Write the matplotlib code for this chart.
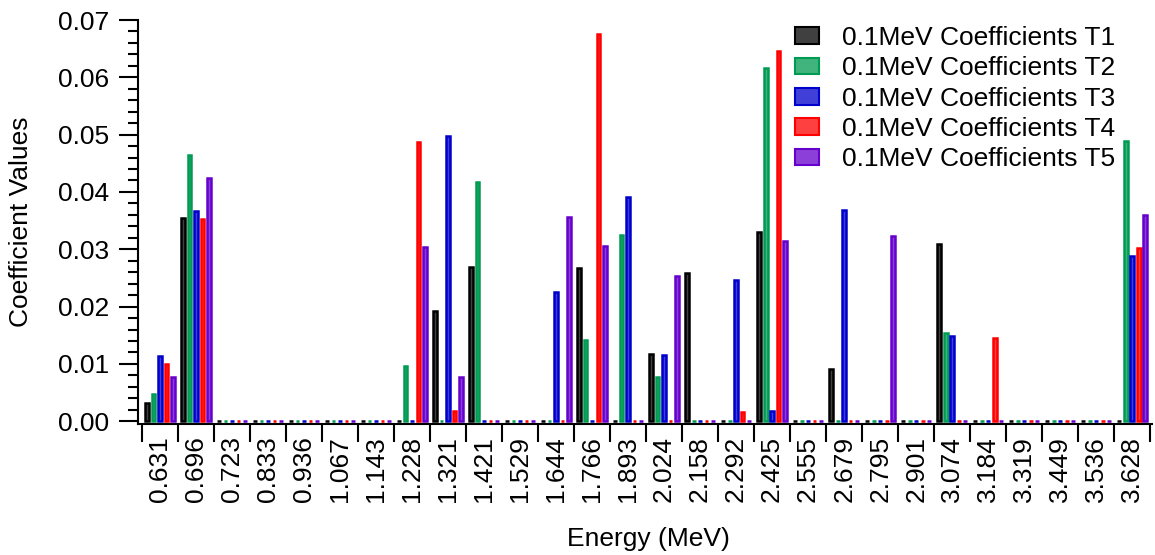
import numpy as np
import matplotlib
matplotlib.use('Agg')
import matplotlib.pyplot as plt
from matplotlib.ticker import MultipleLocator, FixedLocator

plt.rcParams['font.family'] = ['Liberation Sans', 'DejaVu Sans']

# energies (category labels)
energies = ['0.631', '0.696', '0.723', '0.833', '0.936', '1.067', '1.143',
            '1.228', '1.321', '1.421', '1.529', '1.644', '1.766', '1.893',
            '2.024', '2.158', '2.292', '2.425', '2.555', '2.679', '2.795',
            '2.901', '3.074', '3.184', '3.319', '3.449', '3.536', '3.628']

t1 = [0.0031, 0.0354, 0, 0, 0, 0, 0, 0, 0.0193, 0.0269, 0, 0, 0.0268, 0,
      0.0118, 0.0258, 0, 0.0330, 0, 0.0091, 0, 0, 0.0310, 0, 0, 0, 0, 0]
t2 = [0.0048, 0.0465, 0, 0, 0, 0, 0, 0.0097, 0, 0.0418, 0, 0, 0.0142, 0.0325,
      0.0078, 0, 0, 0.0616, 0, 0, 0, 0, 0.0154, 0, 0, 0, 0, 0.0489]
t3 = [0.0114, 0.0366, 0, 0, 0, 0, 0, 0, 0.0497, 0, 0, 0.0225, 0, 0.0392,
      0.0116, 0, 0.0246, 0.0018, 0, 0.0369, 0, 0, 0.0149, 0, 0, 0, 0, 0.0289]
t4 = [0.0099, 0.0353, 0, 0, 0, 0, 0, 0.0487, 0.0018, 0, 0, 0, 0.0676, 0,
      0, 0, 0.0016, 0.0646, 0, 0, 0, 0, 0, 0.0146, 0, 0, 0, 0.0303]
t5 = [0.0077, 0.0425, 0, 0, 0, 0, 0, 0.0304, 0.0077, 0, 0, 0.0357, 0.0306, 0,
      0.0253, 0, 0, 0.0314, 0, 0, 0.0324, 0, 0, 0, 0, 0, 0, 0.0359]

series = [t1, t2, t3, t4, t5]
names = ['0.1MeV Coefficients T1', '0.1MeV Coefficients T2', '0.1MeV Coefficients T3',
         '0.1MeV Coefficients T4', '0.1MeV Coefficients T5']
edges = ['#000000', '#009b52', '#0000cc', '#ff0000', '#6600cc']
fills = ['#404040', '#40b47c', '#4040d9', '#ff4040', '#8c40d9']

fig = plt.figure(figsize=(11.55, 5.55), dpi=100)
ax = fig.add_axes([138/1155, 1 - 423.5/555, 1014/1155, 403.5/555])

x = np.arange(len(energies))
pitch = 0.18
for i, (vals, nm) in enumerate(zip(series, names)):
    ax.bar(x + (i - 2) * pitch, vals, width=0.105, color=fills[i],
           edgecolor=edges[i], linewidth=1.8, label=nm)

ax.set_xlim(-0.61, 27.55)
ax.set_ylim(-0.0004, 0.07)

ax.spines['top'].set_visible(False)
ax.spines['right'].set_visible(False)
ax.spines['left'].set_linewidth(1.5)
ax.spines['bottom'].set_linewidth(1.5)

ax.yaxis.set_major_locator(FixedLocator(np.arange(0, 0.071, 0.01)))
ax.yaxis.set_minor_locator(MultipleLocator(0.002))
ax.set_yticklabels(['%.2f' % v for v in np.arange(0, 0.071, 0.01)])
ax.tick_params(axis='y', which='major', length=13.5, width=1.5, labelsize=19, pad=7)
ax.tick_params(axis='y', which='minor', length=7, width=1.5)

ax.set_xticks(x)
ax.set_xticklabels(energies, rotation=90)
ax.xaxis.set_minor_locator(FixedLocator(np.arange(-0.5, 28, 1)))
ax.tick_params(axis='x', which='major', length=0, labelsize=19, pad=9)
ax.tick_params(axis='x', which='minor', length=13, width=1.5)

ax.set_ylabel('Coefficient Values', fontsize=19)
ax.set_xlabel('Energy (MeV)', fontsize=19)
ax.yaxis.set_label_coords(-0.104, 0.5)
ax.xaxis.set_label_coords(0.503, -0.256)

leg = ax.legend(loc='upper left', bbox_to_anchor=(795/1155, 1 - 26/555),
                bbox_transform=fig.transFigure, frameon=False, fontsize=19,
                handlelength=0.9, handleheight=0.6, handletextpad=0.9,
                labelspacing=0.24, borderpad=0, borderaxespad=0)
for h in leg.legend_handles:
    h.set_linewidth(1.5)

fig.savefig('out.png', dpi=100)
